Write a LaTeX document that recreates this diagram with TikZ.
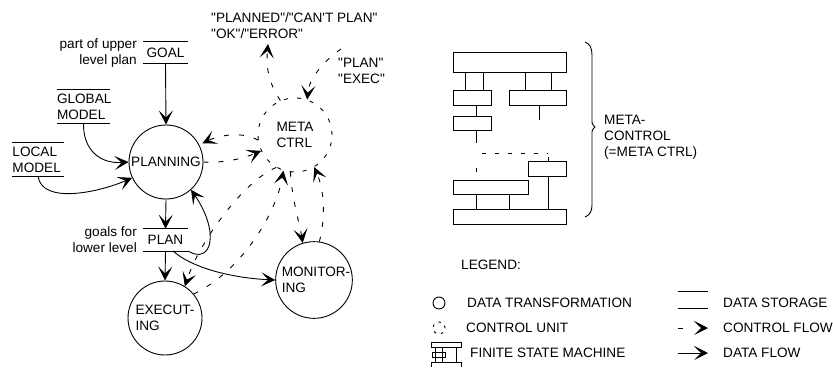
\documentclass[tikz,border=0pt]{standalone}
\usepackage{fontspec}
\setmainfont{Liberation Sans}
\usetikzlibrary{arrows.meta}
\newcommand{\qq}{\textquotedbl}
\begin{document}
\begin{tikzpicture}[x=1pt,y=-1pt,
  every node/.style={font=\fontsize{13.6}{16}\selectfont, inner sep=0pt},
  lw/.style={line width=0.9pt},
  headtip/.style={-{Stealth[length=14pt,width=14pt,inset=7pt]}},
  flow/.style={lw,headtip},
  ctrl/.style={lw,headtip,dash pattern=on 5pt off 10pt},
  proc/.style={circle,draw,lw,minimum size=74pt,align=left},
  ctrlunit/.style={circle,draw,lw,dash pattern=on 4pt off 9pt,minimum size=74pt,align=left},
  store/.style={minimum height=22pt},
  box/.style={draw,lw},
]
\useasboundingbox (0,0) rectangle (833,367);

% ---------- data stores ----------
\node[store,minimum width=45pt] (goal) at (165.5,52.5) {GOAL};
\node[store,minimum width=53pt,minimum height=33pt,text width=53pt,align=left] (glob) at (83.5,106.5) {GLOBAL\\MODEL};
\node[store,minimum width=52pt,minimum height=33pt,text width=51pt,align=left] (loc) at (38,159.5) {LOCAL\\MODEL};
\node[store,minimum width=45pt] (plan) at (165.5,240) {PLAN};
\foreach \s in {goal,glob,loc,plan}{
  \draw[lw] (\s.north west) -- (\s.north east) (\s.south west) -- (\s.south east);
}
\node[anchor=east,align=right] (goalnote) at (137,53) {part of upper\\level plan};
\node[anchor=east,align=right] (plannote) at (137,240) {goals for\\lower level};

% ---------- transformations and control unit ----------
\node[proc] (planning) at (166,162) {PLANNING};
\node[proc] (exec) at (165,318) {EXECUT-\\ING};
\node[proc] (monitor) at (314,280) {\hspace*{4pt}MONITOR-\\\hspace*{4pt}ING};
\node[ctrlunit] (meta) at (295,135) {META\\CTRL};

\node[anchor=west,align=left] (status) at (211,26) {\qq PLANNED\qq/\qq CAN\textquotesingle T PLAN\qq\\\qq OK\qq/\qq ERROR\qq};
\node[anchor=west,align=left] (cmd) at (338,71) {\qq PLAN\qq\\\qq EXEC\qq};
\coordinate (statusIn) at (268,44);
\coordinate (cmdOut) at (341,49);

% ---------- data flow ----------
\draw[flow] (goal.south) -- (planning.north);
\draw[flow] (glob.south) .. controls (83,150) and (100,164) .. (planning.west);
\draw[flow] (loc.south) .. controls (42,205) and (100,192) .. (planning.205);
\draw[flow] (planning.south) -- (plan.north);
\draw[flow] (plan.south) -- (exec.north);
\draw[flow] (173,251) .. controls (192,268) and (232,278) .. (monitor.west);
\draw[flow] (plan.south east) .. controls (212,265) and (220,232) .. (planning.-48);

% ---------- control flow ----------
\draw[ctrl] (meta.188) .. controls (245,132) and (222,134) .. ([xshift=4pt]planning.30);
\draw[ctrl] (planning.east) .. controls (220,163) and (240,160) .. (meta.205);
\draw[ctrl] (meta.113) .. controls (268,82) and (266,66) .. (statusIn);
\draw[ctrl] (cmdOut) .. controls (325,60) and (309,78) .. (meta.71);
\draw[ctrl] (meta.-120) .. controls (245,180) and (200,240) .. (exec.58);
\draw[ctrl] (exec.40) .. controls (240,272) and (276,215) .. (meta.-108);
\draw[ctrl] (meta.-97) .. controls (292,200) and (300,225) .. (monitor.107);
\draw[ctrl] (monitor.82) .. controls (326,215) and (324,190) .. (meta.-59);

% ---------- finite state machine of the meta control ----------
\draw[box] (453,52) rectangle (566,72);
\foreach \x in {465,483,525,551} \draw[lw] (\x,72) -- (\x,90);
\draw[box] (453,90) rectangle (491,105);
\draw[box] (509,90) rectangle (566,105);
\draw[lw] (476,105) -- (476,116);
\draw[lw] (539,105) -- (539,120);
\draw[box] (453,116) rectangle (491,130);
\draw[lw] (476,130) -- (476,143);
\draw[lw,dash pattern=on 4pt off 9pt] (482,153) -- (548,153);
\draw[lw] (476,168) -- (476,172);
\draw[box] (528,161) rectangle (566,176);
\draw[lw] (548,157) -- (548,161);
\draw[lw] (548,176) -- (548,209);
\draw[box] (453,180) rectangle (528,194);
\draw[lw] (476,194) -- (476,209);
\draw[lw] (509,194) -- (509,209);
\draw[box] (453,209) rectangle (566,224);

% brace
\draw[lw] (585,42) .. controls (590,44) and (592,48) .. (592,55) -- (592,120)
  .. controls (592,124) .. (595,127) .. controls (592,130) .. (592,134) -- (592,205)
  .. controls (592,211) and (590,215) .. (585,217);
\node[anchor=west,align=left] (metalabel) at (604,137.5) {META-\\CONTROL\\(=META CTRL)};

% ---------- legend ----------
\node[anchor=west] (legtitle) at (461,265) {LEGEND:};

\node[circle,draw,lw,minimum size=12pt] (legproc) at (439,303) {};
\node[anchor=west] (legproctxt) at (467,303) {DATA TRANSFORMATION};

\node[circle,draw,lw,dash pattern=on 2.5pt off 5pt,minimum size=12pt] (legctrl) at (439,328) {};
\node[anchor=west] (legctrltxt) at (466,328) {CONTROL UNIT};

% small state machine icon
\draw[box] (431,342) rectangle (461,347);
\draw[lw] (435,347) -- (435,362) (442,347) -- (442,362) (456,347) -- (456,362);
\draw[box,fill=white] (432,352) rectangle (445,357);
\draw[lw] (435,352) -- (435,357) (442,352) -- (442,357);
\draw[lw] (431,367) -- (431,362) -- (461,362) -- (461,367);
\node[anchor=west] (legfsmtxt) at (470,353) {FINITE STATE MACHINE};

\node[minimum width=30pt,minimum height=16pt] (legstore) at (693,300) {};
\draw[lw] (legstore.north west) -- (legstore.north east) (legstore.south west) -- (legstore.south east);
\node[anchor=west] (legstoretxt) at (723,303) {DATA STORAGE};

\coordinate (cfA) at (678,328);
\coordinate (cfB) at (708,328);
\draw[lw,headtip,dash pattern=on 5pt off 30pt] (cfA) -- (cfB);
\node[anchor=west] (legcftxt) at (723,328) {CONTROL FLOW};

\coordinate (dfA) at (678,353);
\coordinate (dfB) at (708,353);
\draw[flow] (dfA) -- (dfB);
\node[anchor=west] (legdftxt) at (723,353) {DATA FLOW};
\end{tikzpicture}
\end{document}
